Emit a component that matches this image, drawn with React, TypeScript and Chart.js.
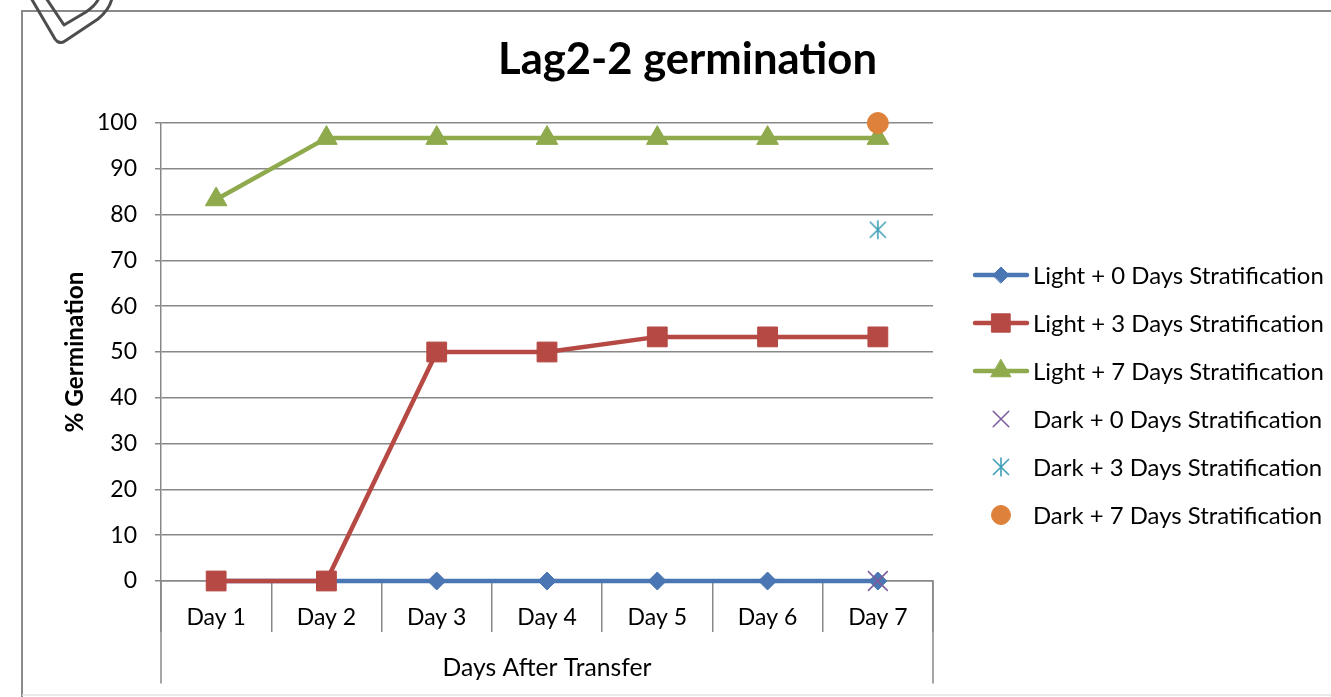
import React, { useEffect, useRef } from 'react';
import { Chart, registerables } from 'chart.js';
import { drawPoint } from 'chart.js/helpers';

Chart.register(...registerables);

const categories = ['Day 1', 'Day 2', 'Day 3', 'Day 4', 'Day 5', 'Day 6', 'Day 7'];
const light0 = [0, 0, 0, 0, 0, 0, 0];
const light3 = [0, 0, 50, 50, 53.3, 53.3, 53.3];
const light7 = [83.3, 96.7, 96.7, 96.7, 96.7, 96.7, 96.7];
const dark0 = [null, null, null, null, null, null, 0];
const dark3 = [null, null, null, null, null, null, 76.7];
const dark7 = [null, null, null, null, null, null, 100];
const seriesNames = [
  'Light + 0 Days Stratification',
  'Light + 3 Days Stratification',
  'Light + 7 Days Stratification',
  'Dark + 0 Days Stratification',
  'Dark + 3 Days Stratification',
  'Dark + 7 Days Stratification',
];
const titleText = 'Lag2-2 germination';
const xTitle = 'Days After Transfer';
const yTitle = '% Germination';
const yMin = 0;
const yMax = 100;
const yStep = 10;

const FONT = 'Lato, "Open Sans", sans-serif';
const AXIS = '#888888';
const colors = ['#4A76B3', '#B64944', '#8EAA4C', '#7D5C9E', '#3F9FB8', '#DE823B'];

function makeAsterisk(color: string) {
  const c = document.createElement('canvas');
  c.width = 22;
  c.height = 22;
  const g = c.getContext('2d')!;
  g.strokeStyle = color;
  g.lineWidth = 1.6;
  g.beginPath();
  g.moveTo(11, 1.5);
  g.lineTo(11, 20.5);
  g.moveTo(3, 3);
  g.lineTo(19, 19);
  g.moveTo(19, 3);
  g.lineTo(3, 19);
  g.stroke();
  return c;
}

function fitSize(ctx: CanvasRenderingContext2D, text: string, weight: string, target: number) {
  ctx.font = `${weight} 100px ${FONT}`;
  const w = ctx.measureText(text).width;
  return (100 * target) / w;
}

export default function App() {
  const ref = useRef<HTMLCanvasElement | null>(null);

  useEffect(() => {
    const canvas = ref.current!;
    const asterisk = makeAsterisk(colors[4]);
    const styles: any[] = ['rectRot', 'rect', 'triangle', 'crossRot', asterisk, 'circle'];
    const radii = [9, 14, 12.5, 14, 11, 10.5];
    const lines = [true, true, true, false, false, false];
    const dataArr = [light0, light3, light7, dark0, dark3, dark7];

    const decor = {
      id: 'decor',
      afterDraw(chart: any) {
        const ctx: CanvasRenderingContext2D = chart.ctx;
        const area = chart.chartArea;
        ctx.save();
        // frame
        ctx.strokeStyle = '#8a8a8a';
        ctx.lineWidth = 2;
        ctx.beginPath();
        ctx.moveTo(22, 697);
        ctx.lineTo(22, 11);
        ctx.lineTo(1331, 11);
        ctx.stroke();
        ctx.strokeStyle = '#e2e2e2';
        ctx.lineWidth = 1.5;
        ctx.beginPath();
        ctx.moveTo(22, 695);
        ctx.lineTo(1331, 695);
        ctx.stroke();
        // decoration shape
        ctx.strokeStyle = '#4d4d4d';
        ctx.lineWidth = 3;
        ctx.lineJoin = 'round';
        ctx.lineCap = 'round';
        ctx.beginPath();
        ctx.moveTo(31, -2);
        ctx.lineTo(55, 39);
        ctx.quadraticCurveTo(59, 45, 65, 41);
        ctx.lineTo(98, 19);
        ctx.quadraticCurveTo(110, 9, 112, -2);
        ctx.stroke();
        ctx.beginPath();
        ctx.moveTo(46, -2);
        ctx.lineTo(64, 25);
        ctx.lineTo(86, 12);
        ctx.quadraticCurveTo(96, 5, 99, -2);
        ctx.stroke();
        // extended category edge lines
        ctx.strokeStyle = AXIS;
        ctx.lineWidth = 1.5;
        ctx.beginPath();
        ctx.moveTo(area.left, area.bottom);
        ctx.lineTo(area.left, area.bottom + 102);
        ctx.moveTo(area.right, area.bottom);
        ctx.lineTo(area.right, area.bottom + 102);
        ctx.stroke();
        // titles
        ctx.fillStyle = '#000';
        ctx.textAlign = 'center';
        ctx.textBaseline = 'alphabetic';
        const ts = fitSize(ctx, titleText, 'bold', 379);
        ctx.font = `bold ${ts}px ${FONT}`;
        ctx.fillText(titleText, 687.5, 74);
        const xs = fitSize(ctx, xTitle, 'normal', 209);
        ctx.font = `normal ${xs}px ${FONT}`;
        ctx.fillText(xTitle, (area.left + area.right) / 2, 676);
        const ys = fitSize(ctx, yTitle, 'bold', 161);
        ctx.save();
        ctx.translate(83, 352);
        ctx.rotate(-Math.PI / 2);
        ctx.font = `bold ${ys}px ${FONT}`;
        ctx.fillText(yTitle, 0, 0);
        ctx.restore();
        // legend
        const ls = fitSize(ctx, seriesNames[0], 'normal', 291);
        const rowY = [275, 323, 371, 419, 467, 515];
        seriesNames.forEach((name, i) => {
          const y = rowY[i];
          if (lines[i]) {
            ctx.strokeStyle = colors[i];
            ctx.lineWidth = 4.5;
            ctx.lineCap = 'round';
            ctx.beginPath();
            ctx.moveTo(975, y);
            ctx.lineTo(1027, y);
            ctx.stroke();
          }
          ctx.fillStyle = colors[i];
          ctx.strokeStyle = colors[i];
          ctx.lineWidth = i === 3 ? 1.5 : 1;
          drawPoint(ctx, { pointStyle: styles[i], radius: i === 3 ? 11 : radii[i] - 1, rotation: 0, borderWidth: i === 3 ? 1.5 : 1 } as any, 1001, y);
          ctx.fillStyle = '#000';
          ctx.textAlign = 'left';
          ctx.textBaseline = 'middle';
          ctx.font = `normal ${ls}px ${FONT}`;
          ctx.fillText(name, 1033, y + 1);
        });
        ctx.restore();
      },
    };

    const datasets = dataArr.map((d, i) => ({
      label: seriesNames[i],
      data: d,
      showLine: lines[i],
      clip: false as any,
      borderColor: colors[i],
      backgroundColor: colors[i],
      borderWidth: 4.5,
      borderCapStyle: 'round' as const,
      borderJoinStyle: 'round' as const,
      tension: 0,
      pointStyle: styles[i],
      pointRadius: radii[i],
      pointHoverRadius: radii[i],
      pointBorderWidth: i === 3 ? 1.5 : 1,
      pointBackgroundColor: colors[i],
      pointBorderColor: colors[i],
      order: 5 - i,
    }));

    const tickFont = { family: FONT, size: 23 };

    const chart = new Chart(canvas, {
      type: 'line',
      data: { labels: categories, datasets },
      plugins: [decor],
      options: {
        animation: false,
        responsive: false,
        maintainAspectRatio: false,
        layout: { padding: { top: 123, right: 398, left: 0, bottom: 0 } },
        plugins: {
          legend: { display: false },
          tooltip: { enabled: false },
          title: { display: false },
        },
        scales: {
          x: {
            offset: true,
            grid: {
              offset: true,
              drawOnChartArea: false,
              drawTicks: true,
              tickLength: 51,
              color: AXIS,
              lineWidth: 1.5,
            },
            border: { color: AXIS, width: 1.5 },
            ticks: { font: tickFont, color: '#000', padding: -28, maxRotation: 0, autoSkip: false },
            afterFit: (s: any) => {
              s.height = 116;
            },
          },
          y: {
            min: yMin,
            max: yMax,
            ticks: { stepSize: yStep, font: tickFont, color: '#000', padding: 18 },
            grid: { color: AXIS, lineWidth: 1.5, tickLength: 6 },
            border: { color: AXIS, width: 1.5 },
            afterFit: (s: any) => {
              s.width = 161;
            },
          },
        },
      },
    });
    return () => chart.destroy();
  }, []);

  return (
    <div style={{ position: 'fixed', left: 0, top: 0, width: 1331, height: 697, background: '#fff' }}>
      <canvas ref={ref} width={1331} height={697} style={{ display: 'block', width: 1331, height: 697 }} />
    </div>
  );
}
